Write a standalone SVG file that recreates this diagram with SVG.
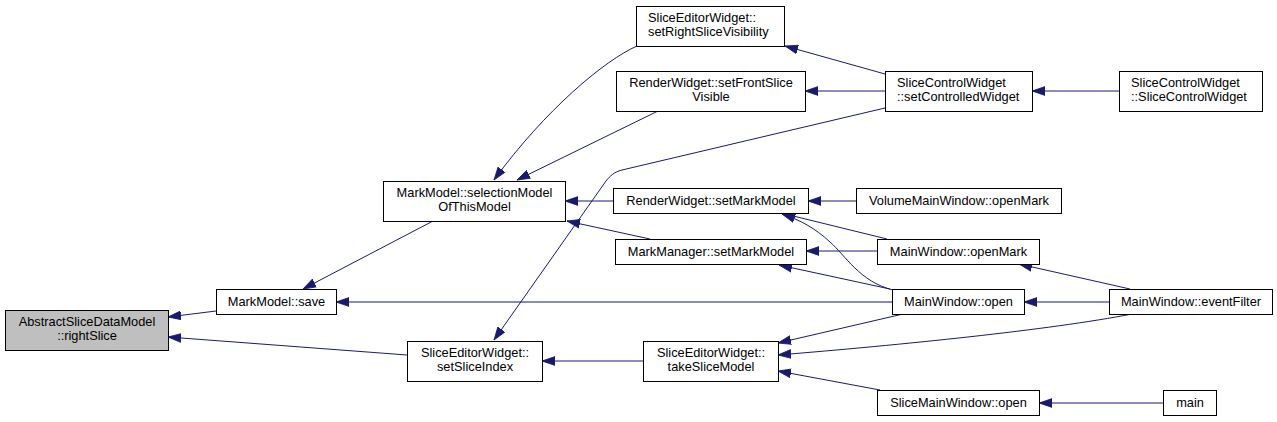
<svg xmlns="http://www.w3.org/2000/svg" width="1277" height="422" viewBox="0 0 1277 422">
<style>
.n rect{fill:#fff;stroke:#000;stroke-width:1}
.n.root rect{fill:#bfbfbf}
.n text{font-family:"Liberation Sans",Arial,sans-serif;font-size:12.8px;fill:#000}
.c{text-anchor:middle}
.e path{fill:none;stroke:#191970;stroke-width:1;marker-end:url(#ah)}
</style>
<defs>
<marker id="ah" markerUnits="userSpaceOnUse" markerWidth="14" markerHeight="10" viewBox="0 0 14 10" refX="13" refY="5" orient="auto">
<path d="M0,0.6 L13,5 L0,9.4 Z" fill="#191970" stroke="#191970" stroke-width="0.8"/>
</marker>
</defs>
<rect width="1277" height="422" fill="#fff"/>
<g id="edges" class="e">
<path d="M216,311 L168,317"/>
<path d="M407,355 L168,337"/>
<path d="M433,221 L303,289"/>
<path d="M613,201 L565,201"/>
<path d="M650,239 L567,221"/>
<path d="M637,46 C605,60 545,110 494,180"/>
<path d="M658,111 L517,180"/>
<path d="M885,108 L622,170 C614,172 610,176 606,181 L494,340"/>
<path d="M885,74 L785,46"/>
<path d="M885,91 L805,91"/>
<path d="M1119,91 L1032,91"/>
<path d="M856,201 L808,201"/>
<path d="M887,239 L781,213"/>
<path d="M893,290 C860,282 845,255 830,242 C815,228 800,220 782,214"/>
<path d="M877,251 L806,251"/>
<path d="M890,289 L779,265"/>
<path d="M1130,289 L1019,264"/>
<path d="M1109,302 L1024,302"/>
<path d="M892,302 L336,302"/>
<path d="M903,314 L778,343"/>
<path d="M1132,314 C1050,330 900,345 778,355"/>
<path d="M880,390 L778,371"/>
<path d="M1163,403 L1039,403"/>
<path d="M643,361 L542,361"/>
</g>
<g id="n_rightSlice" class="n root"><rect x="5.5" y="310.5" width="163" height="40"/><text class="c" x="87" y="326">AbstractSliceDataModel</text><text class="c" x="87" y="340">::rightSlice</text></g>
<g id="n_save" class="n"><rect x="216.5" y="289.5" width="120" height="25"/><text class="c" x="276.5" y="306">MarkModel::save</text></g>
<g id="n_selectionModel" class="n"><rect x="383.5" y="181.5" width="182" height="40"/><text class="c" x="474.5" y="197">MarkModel::selectionModel</text><text class="c" x="474.5" y="211">OfThisModel</text></g>
<g id="n_setSliceIndex" class="n"><rect x="407.5" y="341.5" width="135" height="40"/><text class="c" x="475" y="357">SliceEditorWidget::</text><text class="c" x="475" y="371">setSliceIndex</text></g>
<g id="n_setRightSliceVisibility" class="n"><rect x="636.5" y="6.5" width="148" height="40"/><text x="648" y="22">SliceEditorWidget::</text><text x="648" y="36">setRightSliceVisibility</text></g>
<g id="n_setFrontSliceVisible" class="n"><rect x="616.5" y="71.5" width="189" height="40"/><text class="c" x="711" y="87">RenderWidget::setFrontSlice</text><text class="c" x="711" y="101">Visible</text></g>
<g id="n_rwSetMarkModel" class="n"><rect x="613.5" y="188.5" width="195" height="25"/><text class="c" x="711" y="205">RenderWidget::setMarkModel</text></g>
<g id="n_mmSetMarkModel" class="n"><rect x="615.5" y="239.5" width="191" height="25"/><text class="c" x="711" y="256">MarkManager::setMarkModel</text></g>
<g id="n_takeSliceModel" class="n"><rect x="643.5" y="341.5" width="135" height="40"/><text class="c" x="711" y="357">SliceEditorWidget::</text><text class="c" x="711" y="371">takeSliceModel</text></g>
<g id="n_setControlledWidget" class="n"><rect x="885.5" y="71.5" width="147" height="40"/><text x="897" y="87">SliceControlWidget</text><text x="897" y="101">::setControlledWidget</text></g>
<g id="n_SliceControlWidget" class="n"><rect x="1119.5" y="71.5" width="143" height="40"/><text x="1131" y="87">SliceControlWidget</text><text x="1131" y="101">::SliceControlWidget</text></g>
<g id="n_volOpenMark" class="n"><rect x="856.5" y="188.5" width="205" height="25"/><text class="c" x="959" y="205">VolumeMainWindow::openMark</text></g>
<g id="n_mwOpenMark" class="n"><rect x="877.5" y="239.5" width="162" height="25"/><text class="c" x="958.5" y="256">MainWindow::openMark</text></g>
<g id="n_mwOpen" class="n"><rect x="892.5" y="289.5" width="132" height="25"/><text class="c" x="958.5" y="306">MainWindow::open</text></g>
<g id="n_eventFilter" class="n"><rect x="1109.5" y="289.5" width="163" height="25"/><text class="c" x="1191" y="306">MainWindow::eventFilter</text></g>
<g id="n_sliceMainOpen" class="n"><rect x="877.5" y="390.5" width="162" height="25"/><text class="c" x="958.5" y="407">SliceMainWindow::open</text></g>
<g id="n_main" class="n"><rect x="1163.5" y="390.5" width="53" height="25"/><text class="c" x="1190" y="407">main</text></g>
</svg>
